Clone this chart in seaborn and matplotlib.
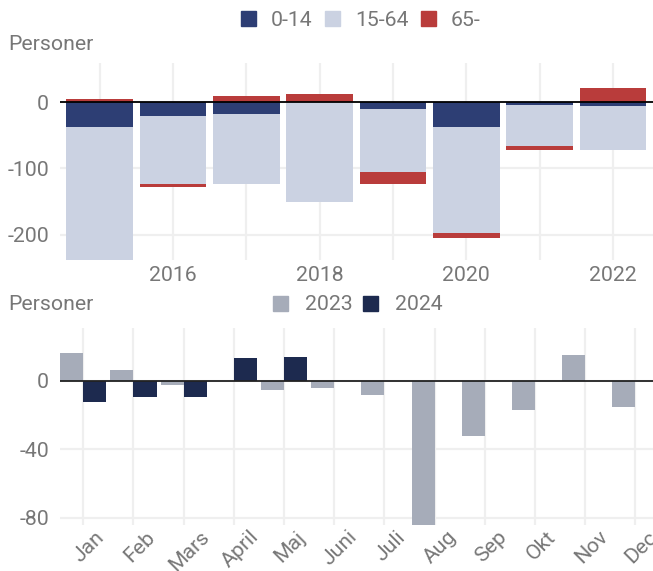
import numpy as np
import pandas as pd
import matplotlib
matplotlib.use("Agg")
import matplotlib.pyplot as plt
import matplotlib.transforms as mtransforms
from matplotlib.patches import Patch
import seaborn as sns

# ---- data: top chart (population change by age group) ----
years = [2015, 2016, 2017, 2018, 2019, 2020, 2021, 2022]
age_0_14 = [-38, -21, -18, 0, -10, -38, -4.5, -5.5]
age_15_64 = [-200, -102, -106, -151, -96, -160, -62, -66.5]
age_65 = [4, -5, 10, 13, -18, -7.5, -6, 21]
top_tick_labels = ["", "2016", "", "2018", "", "2020", "", "2022"]

# ---- data: bottom chart (monthly change) ----
months = ["Jan", "Feb", "Mars", "April", "Maj", "Juni", "Juli", "Aug", "Sep", "Okt", "Nov", "Dec"]
v2023 = [16.4, 6.2, -2.5, 0, -5.3, -4.3, -8.2, -84, -32, -17, 15, -15.4]
v2024 = [-12.5, -9.5, -9.5, 13.3, 13.8, np.nan, np.nan, np.nan, np.nan, np.nan, np.nan, np.nan]

C014, C1564, C65 = "#2d3e74", "#cbd2e2", "#b93c3b"
C23, C24 = "#a6acb9", "#1d2a4f"
TXT = "#777777"
GRID = "#efefef"
FS = 15.3

sns.set_theme(style="white")
plt.rcParams["font.family"] = ["Roboto", "DejaVu Sans"]

fig = plt.figure(figsize=(6.53, 5.71), dpi=100)
ax1 = fig.add_axes([60 / 653, 1 - 260 / 571, 593 / 653, (260 - 63) / 571])
ax2 = fig.add_axes([60 / 653, 1 - 524.5 / 571, 593 / 653, (524.5 - 327.7) / 571])

# ---- top: diverging stacked bars ----
x = np.arange(len(years))
a = np.array(age_0_14, dtype=float)
b = np.array(age_15_64, dtype=float)
c = np.array(age_65, dtype=float)
w = 0.91
pos = np.zeros(len(x))
neg = np.zeros(len(x))
for vals, col in [(a, C014), (b, C1564), (c, C65)]:
    bottoms = np.where(vals >= 0, pos, neg)
    ax1.bar(x, vals, bottom=bottoms, width=w, color=col, linewidth=0, zorder=2)
    pos = pos + np.where(vals >= 0, vals, 0)
    neg = neg + np.where(vals < 0, vals, 0)

ax1.set_xlim(-0.54, 7.545)
ax1.set_ylim(-238, 59)
ax1.set_xticks(x)
ax1.set_xticklabels(top_tick_labels)
ax1.set_yticks([0, -100, -200])
ax1.set_yticklabels(["0", "-100", "-200"])
ax1.axhline(0, color="black", lw=1.3, zorder=3)

# ---- bottom: grouped bars ----
df = pd.DataFrame({
    "month": months * 2,
    "year": ["2023"] * 12 + ["2024"] * 12,
    "value": v2023 + v2024,
})
sns.barplot(data=df, x="month", y="value", hue="year", order=months,
            hue_order=["2023", "2024"], palette=[C23, C24], width=0.92,
            gap=0, saturation=1, errorbar=None, linewidth=0, ax=ax2,
            legend=False, zorder=2)
ax2.set_xlim(-0.464, 11.35)
ax2.set_ylim(-84, 31)
ax2.set_yticks([0, -40, -80])
ax2.set_yticklabels(["0", "-40", "-80"])
ax2.axhline(0, color="#222222", lw=1.3, zorder=3)
ax2.set_xlabel("")
ax2.set_ylabel("")

for ax in (ax1, ax2):
    for s in ax.spines.values():
        s.set_visible(False)
    ax.grid(True, color=GRID, lw=1.6, zorder=0)
    ax.set_axisbelow(True)
    ax.tick_params(axis="both", length=0, labelsize=FS, labelcolor=TXT)
    ax.tick_params(axis="y", pad=8)
    ax.tick_params(axis="x", pad=4)

ax2.tick_params(axis="x", pad=2)
shift = mtransforms.ScaledTranslation(6 / 100, 0, fig.dpi_scale_trans)
for lbl in ax2.get_xticklabels():
    lbl.set_rotation(45)
    lbl.set_ha("center")
    lbl.set_transform(lbl.get_transform() + shift)

# ---- titles and legends ----
fig.text(8 / 653, 1 - 44 / 571, "Personer", fontsize=FS, color=TXT, va="center", ha="left")
fig.text(8 / 653, 1 - 305 / 571, "Personer", fontsize=FS, color=TXT, va="center", ha="left")

h1 = [Patch(color=C014, label="0-14"), Patch(color=C1564, label="15-64"), Patch(color=C65, label="65-")]
fig.legend(handles=h1, loc="center", bbox_to_anchor=(361 / 653, 1 - 20 / 571), ncol=3,
           frameon=False, fontsize=FS, labelcolor=TXT, handlelength=0.7, handleheight=0.7,
           handletextpad=0.7, columnspacing=0.6, borderpad=0)
h2 = [Patch(color=C23, label="2023"), Patch(color=C24, label="2024")]
fig.legend(handles=h2, loc="center", bbox_to_anchor=(358 / 653, 1 - 305 / 571), ncol=2,
           frameon=False, fontsize=FS, labelcolor=TXT, handlelength=0.7, handleheight=0.7,
           handletextpad=0.8, columnspacing=0.5, borderpad=0)

fig.savefig("out.png", dpi=100)
